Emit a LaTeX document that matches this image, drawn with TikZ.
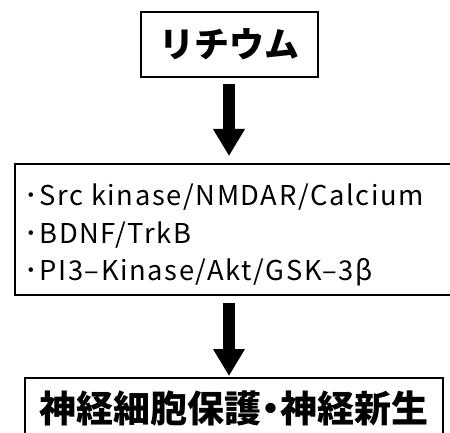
\documentclass[tikz,border=0pt]{standalone}
\usepackage{fontspec}
\usetikzlibrary{arrows.meta}
\newfontfamily\jpfont{Noto Sans CJK JP}
\newfontfamily\jplat[LetterSpace=6]{Noto Sans CJK JP}
\newcommand{\halfdot}{\hspace{-0.25em}・\hspace{-0.25em}}
\begin{document}
\begin{tikzpicture}[x=1pt,y=-1pt,
  boxline/.style={draw, line width=2pt, inner sep=0pt},
  flow/.style={line width=12pt, -{Triangle[width=30pt,length=27pt]}},
  item/.style={anchor=base west, inner sep=0pt, font=\jplat\fontsize{27.3}{30}\selectfont}]
\clip (0,0) rectangle (450,433);
\node[boxline, minimum width=177pt, minimum height=65pt,
      font=\jpfont\bfseries\fontsize{35}{35}\selectfont] (li) at (229,44.5) {リチウム};
\node[boxline, minimum width=447pt, minimum height=131pt] (mech) at (238.5,229.5) {};
\node[item] (l1) at (24,205) {･Src kinase/NMDAR/Calcium};
\node[item] (l2) at (24,243) {･BDNF/TrkB};
\node[item] (l3) at (24,280) {･PI3–Kinase/Akt/GSK–3β};
\node[boxline, minimum width=418pt, minimum height=60pt,
      font=\jpfont\bfseries\fontsize{37}{37}\selectfont] (out) at (234,408) {神経細胞保護\halfdot 神経新生};
\draw[flow, shorten <=6pt, shorten >=7pt] (li.south) -- (li.south |- mech.north);
\draw[flow, shorten <=7pt, shorten >=1pt] (li.south |- mech.south) -- (li.south |- out.north);
\end{tikzpicture}
\end{document}
